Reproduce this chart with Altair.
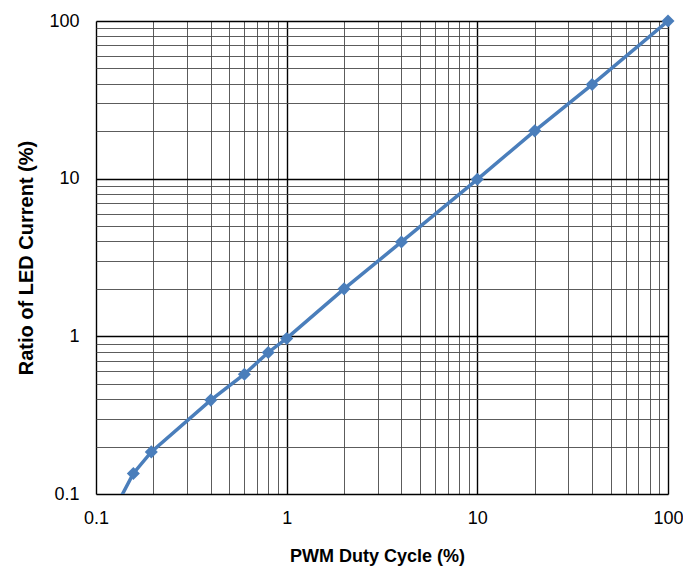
import altair as alt
import pandas as pd

# Data (log-log)
duty_cycle = [0.125, 0.157, 0.195, 0.4, 0.6, 0.8, 1.0, 2, 4, 10, 20, 40, 100]
led_ratio = [0.08, 0.135, 0.185, 0.394, 0.575, 0.79, 0.97, 2.0, 3.97, 9.9, 20.1, 39.5, 100]

grid_vals = [m * 10 ** e for e in (-1, 0, 1) for m in range(1, 10)] + [100]
grid_vals = [float(f"{v:.6g}") for v in grid_vals]
major_vals = [0.1, 1, 10, 100]

df = pd.DataFrame({"x": duty_cycle, "y": led_ratio})

major_test = "indexof([0.1, 1, 10, 100], datum.value) >= 0"

def make_axis(title, orient):
    common = dict(
        title=title,
        values=grid_vals,
        labelExpr=f"{major_test} ? format(datum.value, '~g') : ''",
        grid=True,
        gridColor={"condition": {"test": major_test, "value": "#000000"}, "value": "#4a4a4a"},
        gridWidth={"condition": {"test": major_test, "value": 1.4}, "value": 0.9},
        ticks=False,
        domain=False,
        labelFlush=False,
        labelOverlap=False,
        labelFont="Liberation Sans",
        labelFontSize=18,
        labelColor="#000000",
        titleFont="Liberation Sans",
        titleFontWeight="bold",
        titleColor="#000000",
    )
    if orient == "x":
        common.update(labelPadding=15, titlePadding=20, titleFontSize=18, titleX=281)
    else:
        common.update(labelPadding=17, titlePadding=12, titleFontSize=20)
    return alt.Axis(**common)

x_scale = alt.Scale(type="log", domain=[0.1, 100], nice=False)
y_scale = alt.Scale(type="log", domain=[0.1, 100], nice=False)

base = alt.Chart(df)

line = base.mark_line(color="#4A7EBB", strokeWidth=3.5, clip=True).encode(
    x=alt.X("x:Q", scale=x_scale, axis=make_axis("PWM Duty Cycle (%)", "x")),
    y=alt.Y("y:Q", scale=y_scale, axis=make_axis("Ratio of LED Current (%)", "y")),
)

points = base.transform_filter("datum.y >= 0.1").mark_point(
    shape="diamond", filled=True, size=170, color="#4A7EBB", opacity=1
).encode(
    x=alt.X("x:Q", scale=x_scale),
    y=alt.Y("y:Q", scale=y_scale),
)

chart = (
    alt.layer(line, points)
    .properties(
        width=572,
        height=473,
        autosize=alt.AutoSizeParams(type="none"),
        padding={"left": 88, "top": 13, "right": 15, "bottom": 73},
    )
    .configure_view(stroke="#000000", strokeWidth=1.2)
    .configure(background="white")
)

chart.save("out.html", embed_options={"renderer": "svg", "actions": False})
